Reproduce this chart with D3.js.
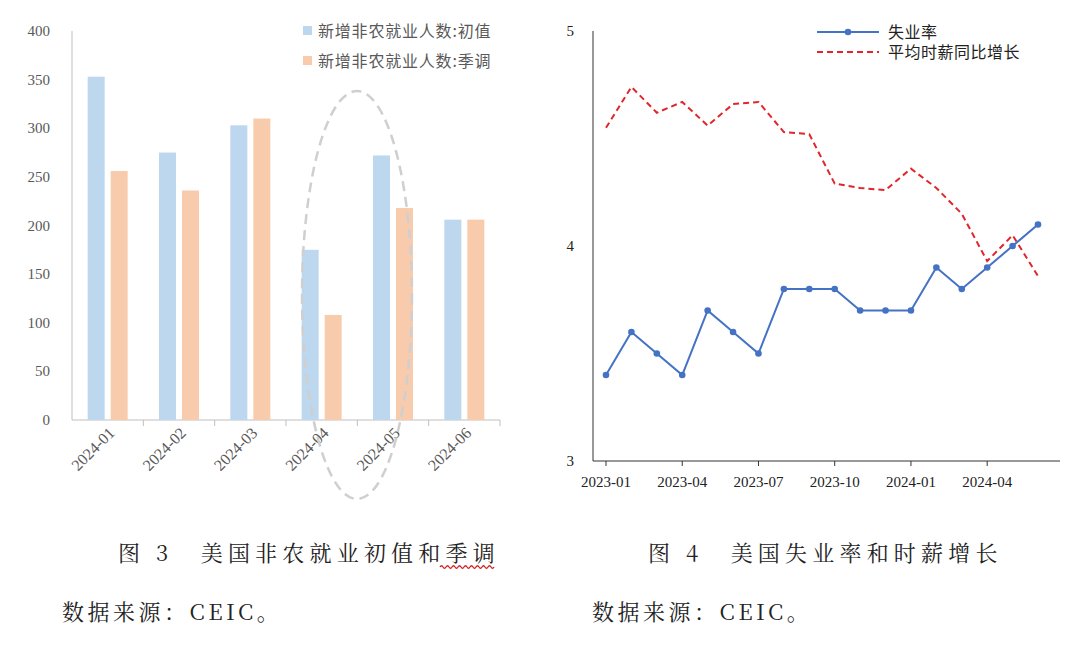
<!DOCTYPE html>
<html><head><meta charset="utf-8">
<script src="https://cdn.jsdelivr.net/npm/d3@7"></script>
<style>body{margin:0;background:#fff}svg{display:block}</style>
</head><body>
<svg id="c" width="1080" height="651"></svg>
<script>
// left chart data
var months = ["2024-01","2024-02","2024-03","2024-04","2024-05","2024-06"];
var initial = [353, 275, 303, 175, 272, 206];
var adjusted = [256, 236, 310, 108, 218, 206];
var barTicks = [0,50,100,150,200,250,300,350,400];
var barSeries = ["新增非农就业人数:初值", "新增非农就业人数:季调"];

// right chart data
var lineMonths = ["2023-01","2023-02","2023-03","2023-04","2023-05","2023-06","2023-07","2023-08","2023-09",
  "2023-10","2023-11","2023-12","2024-01","2024-02","2024-03","2024-04","2024-05","2024-06"];
var unemployment = [3.4,3.6,3.5,3.4,3.7,3.6,3.5,3.8,3.8,3.8,3.7,3.7,3.7,3.9,3.8,3.9,4.0,4.1];
var wageGrowth = [4.55,4.74,4.62,4.67,4.56,4.66,4.67,4.53,4.52,4.29,4.27,4.26,4.36,4.27,4.15,3.93,4.05,3.86];
var lineTicks = ["2023-01","2023-04","2023-07","2023-10","2024-01","2024-04"];
var lineSeries = ["失业率", "平均时薪同比增长"];

var svg = d3.select("#c");
var font = "'Liberation Serif','Times New Roman',serif";
var grey = "#595959";

// ---- left bar chart
var x = d3.scaleBand().domain(months).range([72, 500]);
var y = d3.scaleLinear().domain([0, 400]).range([420, 31]);
var gL = svg.append("g");
gL.append("line").attr("x1",72).attr("x2",72).attr("y1",31).attr("y2",420).attr("stroke","#bfbfbf");
barTicks.forEach(function(t){
  gL.append("text").attr("x",50).attr("y",y(t)+5).attr("text-anchor","end")
    .attr("font-family",font).attr("font-size",15).attr("fill",grey).text(t);
});
gL.append("line").attr("x1",72).attr("x2",500).attr("y1",420).attr("y2",420).attr("stroke","#bfbfbf");
months.forEach(function(m,i){
  var xe = x(m)+x.bandwidth();
  gL.append("line").attr("x1",xe).attr("x2",xe).attr("y1",420).attr("y2",426).attr("stroke","#bfbfbf");
  var cx = x(m)+x.bandwidth()/2;
  gL.append("text").attr("transform","translate("+(cx+8)+",434) rotate(-45)")
    .attr("text-anchor","end").attr("font-family",font).attr("font-size",16).attr("fill",grey).text(m);
});
var bw = 17;
gL.selectAll(".b1").data(initial).enter().append("rect")
  .attr("x",function(d,i){return x(months[i])+x.bandwidth()/2-bw-3;})
  .attr("y",function(d){return y(d);}).attr("width",bw)
  .attr("height",function(d){return 420-y(d);}).attr("fill","#bdd7ee");
gL.selectAll(".b2").data(adjusted).enter().append("rect")
  .attr("x",function(d,i){return x(months[i])+x.bandwidth()/2+3;})
  .attr("y",function(d){return y(d);}).attr("width",bw)
  .attr("height",function(d){return 420-y(d);}).attr("fill","#f8cbad");
var cols = ["#bdd7ee","#f8cbad"];
barSeries.forEach(function(s,i){
  gL.append("rect").attr("x",303).attr("y",26+i*30).attr("width",9).attr("height",9).attr("fill",cols[i]);
  gL.append("text").attr("x",318).attr("y",37+i*30).attr("font-family","'Noto Sans CJK SC',sans-serif")
    .attr("font-size",16).attr("letter-spacing",0.8).attr("fill",grey).text(s);
});
gL.append("ellipse").attr("cx",357).attr("cy",295).attr("rx",55).attr("ry",204)
  .attr("fill","none").attr("stroke","#cfcfcf").attr("stroke-width",2.5).attr("stroke-dasharray","10,6");

// ---- right line chart
var x2 = d3.scalePoint().domain(lineMonths).range([606, 1038]);
var y2 = d3.scaleLinear().domain([3, 5]).range([461, 31]);
var gR = svg.append("g");
gR.append("line").attr("x1",593).attr("x2",593).attr("y1",31).attr("y2",461).attr("stroke","#333");
gR.append("line").attr("x1",593).attr("x2",1060).attr("y1",461).attr("y2",461).attr("stroke","#333");
[3,4,5].forEach(function(t){
  gR.append("text").attr("x",574).attr("y",y2(t)+5).attr("text-anchor","end")
    .attr("font-family",font).attr("font-size",15).attr("fill","#222").text(t);
});
lineTicks.forEach(function(m){
  gR.append("line").attr("x1",x2(m)).attr("x2",x2(m)).attr("y1",461).attr("y2",466).attr("stroke","#333");
  gR.append("text").attr("x",x2(m)).attr("y",487).attr("text-anchor","middle")
    .attr("font-family",font).attr("font-size",15).attr("fill","#222").text(m);
});
var ln = function(arr){ return d3.line().x(function(d,i){return x2(lineMonths[i]);}).y(function(d){return y2(d);})(arr); };
gR.append("path").attr("d",ln(wageGrowth)).attr("fill","none").attr("stroke","#e0262b")
  .attr("stroke-width",2).attr("stroke-dasharray","6,4");
gR.append("path").attr("d",ln(unemployment)).attr("fill","none").attr("stroke","#4472c4").attr("stroke-width",2);
gR.selectAll("circle").data(unemployment).enter().append("circle")
  .attr("cx",function(d,i){return x2(lineMonths[i]);}).attr("cy",function(d){return y2(d);})
  .attr("r",3.3).attr("fill","#4472c4");
gR.append("line").attr("x1",817).attr("x2",879).attr("y1",32).attr("y2",32).attr("stroke","#4472c4").attr("stroke-width",2);
gR.append("circle").attr("cx",848).attr("cy",32).attr("r",3.3).attr("fill","#4472c4");
gR.append("line").attr("x1",817).attr("x2",879).attr("y1",52).attr("y2",52).attr("stroke","#e0262b")
  .attr("stroke-width",2).attr("stroke-dasharray","6,4");
lineSeries.forEach(function(s,i){
  gR.append("text").attr("x",888).attr("y",38+i*20).attr("font-family","'Noto Sans CJK SC',sans-serif")
    .attr("font-size",16).attr("letter-spacing",0.5).attr("fill","#222").text(s);
});

// ---- captions
var cf = "'Noto Serif CJK SC','Noto Sans CJK SC',serif";
function cap(x0,y0,t,ls){ svg.append("text").attr("x",x0).attr("y",y0).attr("font-family",cf)
  .attr("font-size",22).attr("letter-spacing",ls).attr("fill","#222").attr("xml:space","preserve").text(t); }
cap(118,561,"图 3　美国非农就业初值和季调",5.2);
cap(62,620,"数据来源：CEIC。",3.5);
cap(648,561,"图 4　美国失业率和时薪增长",5.2);
cap(592,620,"数据来源：CEIC。",3.5);
var wave = "M440,567";
for (var k=0;k<9;k++) wave += " q1.5,-2.5 3,0 q1.5,2.5 3,0";
svg.append("path").attr("d",wave).attr("fill","none").attr("stroke","#d02020").attr("stroke-width",1.3);
</script>
</body></html>
